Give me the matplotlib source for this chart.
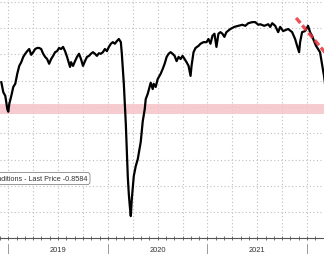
import matplotlib
matplotlib.use("Agg")
from matplotlib import pyplot as plt
from matplotlib import transforms
import numpy as np

# financial conditions index (fractional years)
years = [
    2018.93, 2018.95, 2018.97, 2018.99, 2019.00, 2019.01, 2019.03, 2019.05, 2019.07, 2019.09,
    2019.11, 2019.13, 2019.15, 2019.17, 2019.19, 2019.21, 2019.23, 2019.25, 2019.27, 2019.29,
    2019.31, 2019.33, 2019.35, 2019.37, 2019.39, 2019.41, 2019.43, 2019.45, 2019.47, 2019.49,
    2019.51, 2019.53, 2019.55, 2019.57, 2019.59, 2019.61, 2019.62, 2019.63, 2019.65, 2019.67,
    2019.69, 2019.71, 2019.73, 2019.75, 2019.77, 2019.79, 2019.81, 2019.83, 2019.85, 2019.87,
    2019.89, 2019.91, 2019.93, 2019.95, 2019.97, 2019.99, 2020.01, 2020.03, 2020.05, 2020.07,
    2020.09, 2020.11, 2020.13, 2020.14, 2020.15, 2020.16, 2020.17, 2020.18, 2020.19, 2020.20,
    2020.21, 2020.22, 2020.23, 2020.24, 2020.26, 2020.28, 2020.30, 2020.33, 2020.35, 2020.37,
    2020.38, 2020.40, 2020.43, 2020.45, 2020.46, 2020.48, 2020.50, 2020.53, 2020.55, 2020.57,
    2020.59, 2020.61, 2020.63, 2020.65, 2020.67, 2020.69, 2020.71, 2020.73, 2020.75, 2020.77,
    2020.79, 2020.81, 2020.83, 2020.84, 2020.86, 2020.88, 2020.91, 2020.93, 2020.96, 2020.99,
    2021.01, 2021.03, 2021.05, 2021.07, 2021.09, 2021.11, 2021.13, 2021.15, 2021.17, 2021.19,
    2021.23, 2021.27, 2021.31, 2021.35, 2021.38, 2021.41, 2021.45, 2021.48, 2021.51, 2021.53,
    2021.57, 2021.61, 2021.63, 2021.65, 2021.68, 2021.71, 2021.73, 2021.76, 2021.81, 2021.85,
    2021.88, 2021.90, 2021.92, 2021.93, 2021.95, 2021.98, 2022.01, 2022.03, 2022.05, 2022.07,
    2022.09, 2022.11, 2022.13, 2022.15, 2022.17, 2022.19,
]
fci = [
    -0.53, -0.72, -0.79, -1.04, -1.09, -0.94, -0.79, -0.62, -0.56, -0.37,
    -0.22, -0.15, -0.05, 0.01, 0.06, 0.10, -0.01, 0.04, 0.10, 0.12,
    0.12, 0.10, 0.01, -0.05, -0.09, -0.18, -0.09, -0.03, 0.04, 0.06,
    0.12, 0.10, 0.14, 0.06, -0.05, -0.18, -0.24, -0.15, -0.22, -0.13,
    -0.05, 0.01, -0.09, -0.22, -0.13, -0.05, -0.03, 0.01, 0.04, 0.01,
    -0.03, 0.02, 0.01, 0.04, 0.10, 0.06, 0.14, 0.20, 0.23, 0.20,
    0.25, 0.29, 0.23, 0.01, -0.28, -0.56, -0.94, -1.32, -1.80, -2.33,
    -2.65, -2.88, -3.07, -2.75, -2.31, -2.12, -1.99, -1.66, -1.27, -1.04,
    -0.85, -0.75, -0.54, -0.66, -0.56, -0.62, -0.47, -0.37, -0.28, -0.18,
    -0.05, 0.01, 0.04, 0.01, -0.03, -0.13, -0.05, -0.09, -0.03, -0.09,
    -0.15, -0.22, -0.41, -0.22, 0.04, 0.12, 0.16, 0.20, 0.23, 0.23,
    0.29, 0.20, 0.35, 0.39, 0.14, 0.39, 0.42, 0.39, 0.33, 0.42,
    0.48, 0.52, 0.54, 0.56, 0.54, 0.59, 0.61, 0.61, 0.56, 0.57,
    0.54, 0.57, 0.52, 0.59, 0.54, 0.42, 0.52, 0.44, 0.48, 0.42,
    0.29, 0.16, 0.04, 0.23, 0.42, 0.44, 0.54, 0.42, 0.35, 0.25,
    0.16, 0.10, 0.04, -0.18, -0.41, -0.70,
]

trend_years = [2021.89, 2022.20]
trend_vals = [0.69, -0.01]

band_low, band_high = -1.13, -0.94
year_starts = [2019, 2020, 2021, 2022]
year_labels = ["2019", "2020", "2021"]
last_price = -0.8584

fig = plt.figure(figsize=(3.24, 2.55), dpi=100)
ax = fig.add_axes([0, 16 / 255, 1, 239 / 255])

ax.set_xlim(2018.93, 2022.17)
ax.set_ylim(-3.486, 1.049)

# grid
grid_kw = dict(color="#bdbdbd", lw=0.8, linestyle=(0, (1, 2.2)), zorder=0)
for q in np.arange(2019, 2022.25, 0.25):
    ax.axvline(q, **grid_kw)
for g in np.arange(-3.0, 1.01, 0.5):
    ax.axhline(g, **grid_kw)

ax.axhspan(band_low, band_high, color="#f6c3c8", alpha=0.85, lw=0, zorder=1)

ax.plot(years, fci, color="black", lw=1.6, zorder=3)
ax.plot(trend_years, trend_vals, color="#e8323c", lw=2.4, alpha=0.85,
        linestyle=(0, (2.0, 0.9)), zorder=4, solid_capstyle="butt")

for s in ["left", "right", "top"]:
    ax.spines[s].set_visible(False)
ax.spines["bottom"].set_color("#555555")
ax.spines["bottom"].set_linewidth(0.8)
ax.set_yticks([])
ax.set_xticks([])
ax.set_xticks(np.arange(2018 + 11 / 12, 2022.2, 1 / 12), minor=True)
ax.tick_params(axis="x", which="minor", direction="inout", length=3,
               width=0.6, color="#555555")

trans = transforms.blended_transform_factory(ax.transData, ax.transAxes)
for y0 in year_starts:
    ax.plot([y0, y0], [-0.025, -0.07], transform=trans, color="#999999",
            lw=0.7, clip_on=False)
for y0, lab in zip(year_starts, year_labels):
    ax.text(y0 + 0.5, -0.05, lab, transform=trans, ha="center", va="center",
            fontsize=5.4, family="Liberation Sans", color="#333333")

ax.text(0.27, 0.249, f"Financial Conditions - Last Price {last_price}",
        transform=ax.transAxes, ha="right", va="center", fontsize=5.2,
        family="Liberation Sans", color="#333333",
        bbox=dict(boxstyle="round,pad=0.35", fc="white", ec="#888888", lw=0.6))

fig.savefig("out.png", dpi=100)
